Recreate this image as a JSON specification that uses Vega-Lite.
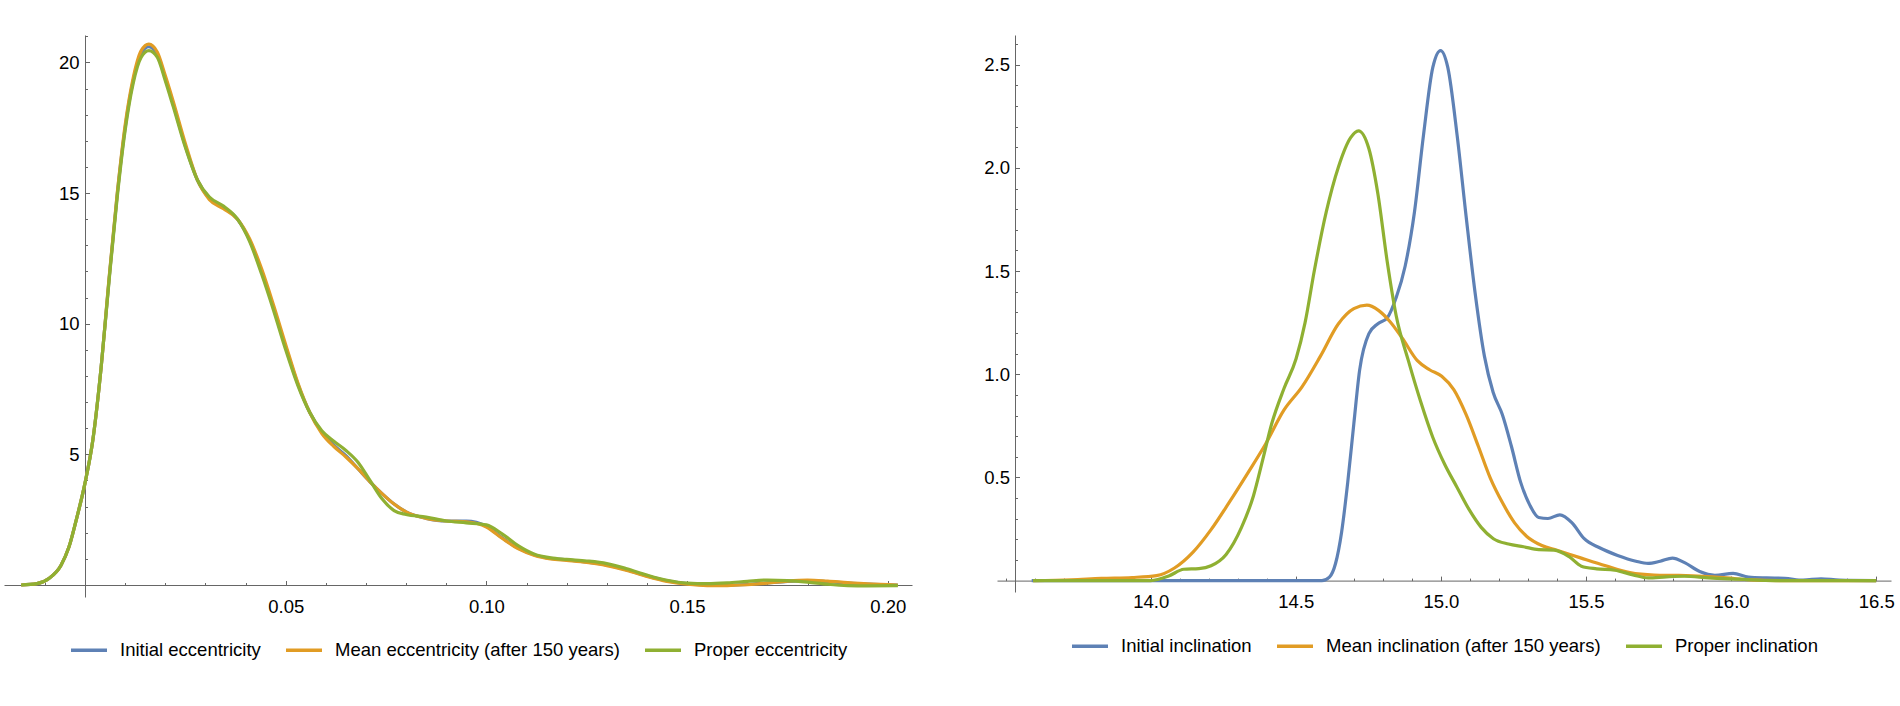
{
  "$schema": "https://vega.github.io/schema/vega-lite/v6.json",
  "background": "white",
  "padding": {"left": 4, "top": 35, "right": 0, "bottom": 0},
  "spacing": 71,
  "config": {
    "view": {"stroke": null},
    "font": "Liberation Sans",
    "axis": {
      "grid": false,
      "title": null,
      "domainColor": "#666666",
      "tickColor": "#666666",
      "labelColor": "#000000",
      "labelFont": "Liberation Sans",
      "labelFontSize": 18.5
    },
    "legend": {
      "orient": "bottom",
      "direction": "horizontal",
      "title": null,
      "symbolType": "stroke",
      "symbolSize": 1296,
      "symbolStrokeWidth": 3.5,
      "labelFont": "Liberation Sans",
      "labelFontSize": 18.5,
      "labelColor": "#000000",
      "labelLimit": 400,
      "labelOffset": 11,
      "columnPadding": 18,
      "offset": 14,
      "layout": {"bottom": {"anchor": "middle"}}
    }
  },
  "resolve": {"scale": {"color": "independent"}},
  "hconcat": [
    {
      "width": 908,
      "height": 562,
      "data": {
        "values": [
          {"series": "Initial eccentricity", "x": -0.0159, "y": 0.0},
          {"series": "Initial eccentricity", "x": -0.012, "y": 0.05},
          {"series": "Initial eccentricity", "x": -0.009, "y": 0.25},
          {"series": "Initial eccentricity", "x": -0.006, "y": 0.75},
          {"series": "Initial eccentricity", "x": -0.004, "y": 1.45},
          {"series": "Initial eccentricity", "x": -0.002, "y": 2.6},
          {"series": "Initial eccentricity", "x": 0.0, "y": 3.9},
          {"series": "Initial eccentricity", "x": 0.002, "y": 5.6},
          {"series": "Initial eccentricity", "x": 0.004, "y": 8.3},
          {"series": "Initial eccentricity", "x": 0.006, "y": 11.7},
          {"series": "Initial eccentricity", "x": 0.008, "y": 14.9},
          {"series": "Initial eccentricity", "x": 0.010, "y": 17.5},
          {"series": "Initial eccentricity", "x": 0.012, "y": 19.3},
          {"series": "Initial eccentricity", "x": 0.014, "y": 20.35},
          {"series": "Initial eccentricity", "x": 0.0159, "y": 20.6},
          {"series": "Initial eccentricity", "x": 0.018, "y": 20.3},
          {"series": "Initial eccentricity", "x": 0.020, "y": 19.4},
          {"series": "Initial eccentricity", "x": 0.022, "y": 18.4},
          {"series": "Initial eccentricity", "x": 0.025, "y": 16.8},
          {"series": "Initial eccentricity", "x": 0.028, "y": 15.5},
          {"series": "Initial eccentricity", "x": 0.031, "y": 14.8},
          {"series": "Initial eccentricity", "x": 0.0345, "y": 14.45},
          {"series": "Initial eccentricity", "x": 0.038, "y": 14.0},
          {"series": "Initial eccentricity", "x": 0.041, "y": 13.2},
          {"series": "Initial eccentricity", "x": 0.044, "y": 12.0},
          {"series": "Initial eccentricity", "x": 0.047, "y": 10.6},
          {"series": "Initial eccentricity", "x": 0.050, "y": 9.1},
          {"series": "Initial eccentricity", "x": 0.053, "y": 7.7},
          {"series": "Initial eccentricity", "x": 0.056, "y": 6.6},
          {"series": "Initial eccentricity", "x": 0.059, "y": 5.85},
          {"series": "Initial eccentricity", "x": 0.062, "y": 5.35},
          {"series": "Initial eccentricity", "x": 0.065, "y": 4.95},
          {"series": "Initial eccentricity", "x": 0.068, "y": 4.45},
          {"series": "Initial eccentricity", "x": 0.071, "y": 3.95},
          {"series": "Initial eccentricity", "x": 0.074, "y": 3.5},
          {"series": "Initial eccentricity", "x": 0.077, "y": 3.1},
          {"series": "Initial eccentricity", "x": 0.080, "y": 2.8},
          {"series": "Initial eccentricity", "x": 0.085, "y": 2.55},
          {"series": "Initial eccentricity", "x": 0.090, "y": 2.45},
          {"series": "Initial eccentricity", "x": 0.095, "y": 2.45},
          {"series": "Initial eccentricity", "x": 0.100, "y": 2.25},
          {"series": "Initial eccentricity", "x": 0.104, "y": 1.8},
          {"series": "Initial eccentricity", "x": 0.108, "y": 1.4},
          {"series": "Initial eccentricity", "x": 0.112, "y": 1.15},
          {"series": "Initial eccentricity", "x": 0.116, "y": 1.02},
          {"series": "Initial eccentricity", "x": 0.120, "y": 0.96},
          {"series": "Initial eccentricity", "x": 0.125, "y": 0.88},
          {"series": "Initial eccentricity", "x": 0.130, "y": 0.77},
          {"series": "Initial eccentricity", "x": 0.135, "y": 0.58},
          {"series": "Initial eccentricity", "x": 0.140, "y": 0.35},
          {"series": "Initial eccentricity", "x": 0.145, "y": 0.16},
          {"series": "Initial eccentricity", "x": 0.150, "y": 0.05},
          {"series": "Initial eccentricity", "x": 0.155, "y": 0.0},
          {"series": "Initial eccentricity", "x": 0.160, "y": -0.01},
          {"series": "Initial eccentricity", "x": 0.165, "y": 0.02},
          {"series": "Initial eccentricity", "x": 0.170, "y": 0.08},
          {"series": "Initial eccentricity", "x": 0.175, "y": 0.14},
          {"series": "Initial eccentricity", "x": 0.180, "y": 0.17},
          {"series": "Initial eccentricity", "x": 0.185, "y": 0.13},
          {"series": "Initial eccentricity", "x": 0.190, "y": 0.07},
          {"series": "Initial eccentricity", "x": 0.195, "y": 0.03},
          {"series": "Initial eccentricity", "x": 0.2025, "y": 0.0},

          {"series": "Mean eccentricity (after 150 years)", "x": -0.0159, "y": 0.0},
          {"series": "Mean eccentricity (after 150 years)", "x": -0.012, "y": 0.05},
          {"series": "Mean eccentricity (after 150 years)", "x": -0.009, "y": 0.25},
          {"series": "Mean eccentricity (after 150 years)", "x": -0.006, "y": 0.75},
          {"series": "Mean eccentricity (after 150 years)", "x": -0.004, "y": 1.45},
          {"series": "Mean eccentricity (after 150 years)", "x": -0.002, "y": 2.6},
          {"series": "Mean eccentricity (after 150 years)", "x": 0.0, "y": 3.9},
          {"series": "Mean eccentricity (after 150 years)", "x": 0.002, "y": 5.6},
          {"series": "Mean eccentricity (after 150 years)", "x": 0.004, "y": 8.3},
          {"series": "Mean eccentricity (after 150 years)", "x": 0.006, "y": 11.75},
          {"series": "Mean eccentricity (after 150 years)", "x": 0.008, "y": 14.95},
          {"series": "Mean eccentricity (after 150 years)", "x": 0.010, "y": 17.6},
          {"series": "Mean eccentricity (after 150 years)", "x": 0.012, "y": 19.4},
          {"series": "Mean eccentricity (after 150 years)", "x": 0.014, "y": 20.45},
          {"series": "Mean eccentricity (after 150 years)", "x": 0.0159, "y": 20.7},
          {"series": "Mean eccentricity (after 150 years)", "x": 0.018, "y": 20.4},
          {"series": "Mean eccentricity (after 150 years)", "x": 0.020, "y": 19.5},
          {"series": "Mean eccentricity (after 150 years)", "x": 0.022, "y": 18.5},
          {"series": "Mean eccentricity (after 150 years)", "x": 0.025, "y": 16.9},
          {"series": "Mean eccentricity (after 150 years)", "x": 0.028, "y": 15.5},
          {"series": "Mean eccentricity (after 150 years)", "x": 0.031, "y": 14.75},
          {"series": "Mean eccentricity (after 150 years)", "x": 0.0345, "y": 14.4},
          {"series": "Mean eccentricity (after 150 years)", "x": 0.038, "y": 14.0},
          {"series": "Mean eccentricity (after 150 years)", "x": 0.041, "y": 13.25},
          {"series": "Mean eccentricity (after 150 years)", "x": 0.044, "y": 12.1},
          {"series": "Mean eccentricity (after 150 years)", "x": 0.047, "y": 10.7},
          {"series": "Mean eccentricity (after 150 years)", "x": 0.050, "y": 9.2},
          {"series": "Mean eccentricity (after 150 years)", "x": 0.053, "y": 7.75},
          {"series": "Mean eccentricity (after 150 years)", "x": 0.056, "y": 6.6},
          {"series": "Mean eccentricity (after 150 years)", "x": 0.059, "y": 5.8},
          {"series": "Mean eccentricity (after 150 years)", "x": 0.062, "y": 5.3},
          {"series": "Mean eccentricity (after 150 years)", "x": 0.065, "y": 4.9},
          {"series": "Mean eccentricity (after 150 years)", "x": 0.068, "y": 4.45},
          {"series": "Mean eccentricity (after 150 years)", "x": 0.071, "y": 3.95},
          {"series": "Mean eccentricity (after 150 years)", "x": 0.074, "y": 3.5},
          {"series": "Mean eccentricity (after 150 years)", "x": 0.077, "y": 3.1},
          {"series": "Mean eccentricity (after 150 years)", "x": 0.080, "y": 2.8},
          {"series": "Mean eccentricity (after 150 years)", "x": 0.085, "y": 2.55},
          {"series": "Mean eccentricity (after 150 years)", "x": 0.090, "y": 2.45},
          {"series": "Mean eccentricity (after 150 years)", "x": 0.095, "y": 2.42},
          {"series": "Mean eccentricity (after 150 years)", "x": 0.100, "y": 2.22},
          {"series": "Mean eccentricity (after 150 years)", "x": 0.104, "y": 1.78},
          {"series": "Mean eccentricity (after 150 years)", "x": 0.108, "y": 1.38},
          {"series": "Mean eccentricity (after 150 years)", "x": 0.112, "y": 1.13},
          {"series": "Mean eccentricity (after 150 years)", "x": 0.116, "y": 1.0},
          {"series": "Mean eccentricity (after 150 years)", "x": 0.120, "y": 0.94},
          {"series": "Mean eccentricity (after 150 years)", "x": 0.125, "y": 0.86},
          {"series": "Mean eccentricity (after 150 years)", "x": 0.130, "y": 0.74},
          {"series": "Mean eccentricity (after 150 years)", "x": 0.135, "y": 0.56},
          {"series": "Mean eccentricity (after 150 years)", "x": 0.140, "y": 0.33},
          {"series": "Mean eccentricity (after 150 years)", "x": 0.145, "y": 0.14},
          {"series": "Mean eccentricity (after 150 years)", "x": 0.150, "y": 0.03},
          {"series": "Mean eccentricity (after 150 years)", "x": 0.155, "y": -0.02},
          {"series": "Mean eccentricity (after 150 years)", "x": 0.160, "y": -0.02},
          {"series": "Mean eccentricity (after 150 years)", "x": 0.165, "y": 0.01},
          {"series": "Mean eccentricity (after 150 years)", "x": 0.170, "y": 0.07},
          {"series": "Mean eccentricity (after 150 years)", "x": 0.175, "y": 0.15},
          {"series": "Mean eccentricity (after 150 years)", "x": 0.180, "y": 0.19},
          {"series": "Mean eccentricity (after 150 years)", "x": 0.185, "y": 0.15},
          {"series": "Mean eccentricity (after 150 years)", "x": 0.190, "y": 0.09},
          {"series": "Mean eccentricity (after 150 years)", "x": 0.195, "y": 0.04},
          {"series": "Mean eccentricity (after 150 years)", "x": 0.2025, "y": 0.0},

          {"series": "Proper eccentricity", "x": -0.0159, "y": 0.0},
          {"series": "Proper eccentricity", "x": -0.012, "y": 0.05},
          {"series": "Proper eccentricity", "x": -0.009, "y": 0.25},
          {"series": "Proper eccentricity", "x": -0.006, "y": 0.75},
          {"series": "Proper eccentricity", "x": -0.004, "y": 1.45},
          {"series": "Proper eccentricity", "x": -0.002, "y": 2.6},
          {"series": "Proper eccentricity", "x": 0.0, "y": 3.9},
          {"series": "Proper eccentricity", "x": 0.002, "y": 5.6},
          {"series": "Proper eccentricity", "x": 0.004, "y": 8.3},
          {"series": "Proper eccentricity", "x": 0.006, "y": 11.65},
          {"series": "Proper eccentricity", "x": 0.008, "y": 14.8},
          {"series": "Proper eccentricity", "x": 0.010, "y": 17.4},
          {"series": "Proper eccentricity", "x": 0.012, "y": 19.2},
          {"series": "Proper eccentricity", "x": 0.014, "y": 20.2},
          {"series": "Proper eccentricity", "x": 0.0159, "y": 20.45},
          {"series": "Proper eccentricity", "x": 0.018, "y": 20.2},
          {"series": "Proper eccentricity", "x": 0.020, "y": 19.3},
          {"series": "Proper eccentricity", "x": 0.022, "y": 18.3},
          {"series": "Proper eccentricity", "x": 0.025, "y": 16.75},
          {"series": "Proper eccentricity", "x": 0.028, "y": 15.5},
          {"series": "Proper eccentricity", "x": 0.031, "y": 14.85},
          {"series": "Proper eccentricity", "x": 0.0345, "y": 14.5},
          {"series": "Proper eccentricity", "x": 0.038, "y": 14.0},
          {"series": "Proper eccentricity", "x": 0.041, "y": 13.15},
          {"series": "Proper eccentricity", "x": 0.044, "y": 11.9},
          {"series": "Proper eccentricity", "x": 0.047, "y": 10.5},
          {"series": "Proper eccentricity", "x": 0.050, "y": 9.0},
          {"series": "Proper eccentricity", "x": 0.053, "y": 7.65},
          {"series": "Proper eccentricity", "x": 0.056, "y": 6.6},
          {"series": "Proper eccentricity", "x": 0.059, "y": 5.9},
          {"series": "Proper eccentricity", "x": 0.062, "y": 5.5},
          {"series": "Proper eccentricity", "x": 0.065, "y": 5.15},
          {"series": "Proper eccentricity", "x": 0.068, "y": 4.7},
          {"series": "Proper eccentricity", "x": 0.071, "y": 4.0},
          {"series": "Proper eccentricity", "x": 0.074, "y": 3.3},
          {"series": "Proper eccentricity", "x": 0.077, "y": 2.85},
          {"series": "Proper eccentricity", "x": 0.080, "y": 2.7},
          {"series": "Proper eccentricity", "x": 0.085, "y": 2.6},
          {"series": "Proper eccentricity", "x": 0.090, "y": 2.45},
          {"series": "Proper eccentricity", "x": 0.095, "y": 2.38},
          {"series": "Proper eccentricity", "x": 0.100, "y": 2.3},
          {"series": "Proper eccentricity", "x": 0.104, "y": 1.95},
          {"series": "Proper eccentricity", "x": 0.108, "y": 1.5},
          {"series": "Proper eccentricity", "x": 0.112, "y": 1.18},
          {"series": "Proper eccentricity", "x": 0.116, "y": 1.04},
          {"series": "Proper eccentricity", "x": 0.120, "y": 0.98},
          {"series": "Proper eccentricity", "x": 0.125, "y": 0.92},
          {"series": "Proper eccentricity", "x": 0.130, "y": 0.82},
          {"series": "Proper eccentricity", "x": 0.135, "y": 0.62},
          {"series": "Proper eccentricity", "x": 0.140, "y": 0.38},
          {"series": "Proper eccentricity", "x": 0.145, "y": 0.18},
          {"series": "Proper eccentricity", "x": 0.150, "y": 0.07},
          {"series": "Proper eccentricity", "x": 0.155, "y": 0.05},
          {"series": "Proper eccentricity", "x": 0.160, "y": 0.08},
          {"series": "Proper eccentricity", "x": 0.165, "y": 0.14},
          {"series": "Proper eccentricity", "x": 0.170, "y": 0.19},
          {"series": "Proper eccentricity", "x": 0.175, "y": 0.17},
          {"series": "Proper eccentricity", "x": 0.180, "y": 0.11},
          {"series": "Proper eccentricity", "x": 0.185, "y": 0.03},
          {"series": "Proper eccentricity", "x": 0.190, "y": -0.02},
          {"series": "Proper eccentricity", "x": 0.195, "y": -0.03},
          {"series": "Proper eccentricity", "x": 0.2025, "y": -0.02}
        ]
      },
      "layer": [
        {
          "mark": {"type": "line", "strokeWidth": 3.2, "interpolate": "monotone"},
          "encoding": {
            "x": {
              "field": "x", "type": "quantitative",
              "scale": {"domain": [-0.02018, 0.20603], "nice": false, "zero": false},
              "axis": {"orient": "bottom", "values": [0.05, 0.1, 0.15, 0.2], "format": ".2f", "offset": -12, "tickSize": -4.5, "labelPadding": 16.5}
            },
            "y": {
              "field": "y", "type": "quantitative",
              "scale": {"domain": [-0.459, 21.049], "nice": false, "zero": false},
              "axis": {"orient": "left", "values": [5, 10, 15, 20], "format": "d", "offset": -81, "tickSize": -4.5, "labelPadding": 10.5}
            },
            "color": {
              "field": "series", "type": "nominal",
              "scale": {
                "domain": ["Initial eccentricity", "Mean eccentricity (after 150 years)", "Proper eccentricity"],
                "range": ["#5E81B5", "#E19C24", "#8FB032"]
              }
            }
          }
        },
        {
          "mark": {"type": "line", "opacity": 0},
          "encoding": {
            "x": {
              "field": "x", "type": "quantitative",
              "scale": {"domain": [-0.02018, 0.20603], "nice": false, "zero": false},
              "axis": {"orient": "bottom", "values": [-0.01, 0.01, 0.02, 0.03, 0.04, 0.06, 0.07, 0.08, 0.09, 0.11, 0.12, 0.13, 0.14, 0.16, 0.17, 0.18, 0.19], "labels": false, "domain": false, "offset": -12, "tickSize": -2.5}
            },
            "y": {
              "field": "y", "type": "quantitative",
              "scale": {"domain": [-0.459, 21.049], "nice": false, "zero": false},
              "axis": {"orient": "left", "values": [1, 2, 3, 4, 6, 7, 8, 9, 11, 12, 13, 14, 16, 17, 18, 19, 21], "labels": false, "domain": false, "offset": -81, "tickSize": -2.5}
            },
            "detail": {"field": "series", "type": "nominal"}
          }
        }
      ],
      "resolve": {"axis": {"x": "independent", "y": "independent"}}
    },
    {
      "width": 894,
      "height": 557,
      "data": {
        "values": [
          {"series": "Initial inclination", "x": 13.59, "y": 0},
          {"series": "Initial inclination", "x": 14.5, "y": 0},
          {"series": "Initial inclination", "x": 14.59, "y": 0},
          {"series": "Initial inclination", "x": 14.616, "y": 0.017},
          {"series": "Initial inclination", "x": 14.637, "y": 0.083},
          {"series": "Initial inclination", "x": 14.658, "y": 0.236},
          {"series": "Initial inclination", "x": 14.679, "y": 0.476},
          {"series": "Initial inclination", "x": 14.7, "y": 0.76},
          {"series": "Initial inclination", "x": 14.72, "y": 1.02},
          {"series": "Initial inclination", "x": 14.752, "y": 1.197},
          {"series": "Initial inclination", "x": 14.783, "y": 1.245},
          {"series": "Initial inclination", "x": 14.815, "y": 1.273},
          {"series": "Initial inclination", "x": 14.846, "y": 1.372},
          {"series": "Initial inclination", "x": 14.877, "y": 1.525},
          {"series": "Initial inclination", "x": 14.909, "y": 1.787},
          {"series": "Initial inclination", "x": 14.94, "y": 2.158},
          {"series": "Initial inclination", "x": 14.972, "y": 2.486},
          {"series": "Initial inclination", "x": 14.999, "y": 2.569},
          {"series": "Initial inclination", "x": 15.024, "y": 2.486},
          {"series": "Initial inclination", "x": 15.056, "y": 2.158},
          {"series": "Initial inclination", "x": 15.087, "y": 1.765},
          {"series": "Initial inclination", "x": 15.118, "y": 1.394},
          {"series": "Initial inclination", "x": 15.15, "y": 1.088},
          {"series": "Initial inclination", "x": 15.18, "y": 0.913},
          {"series": "Initial inclination", "x": 15.212, "y": 0.804},
          {"series": "Initial inclination", "x": 15.243, "y": 0.651},
          {"series": "Initial inclination", "x": 15.275, "y": 0.476},
          {"series": "Initial inclination", "x": 15.306, "y": 0.367},
          {"series": "Initial inclination", "x": 15.337, "y": 0.306},
          {"series": "Initial inclination", "x": 15.369, "y": 0.301},
          {"series": "Initial inclination", "x": 15.41, "y": 0.319},
          {"series": "Initial inclination", "x": 15.452, "y": 0.28},
          {"series": "Initial inclination", "x": 15.494, "y": 0.203},
          {"series": "Initial inclination", "x": 15.547, "y": 0.159},
          {"series": "Initial inclination", "x": 15.609, "y": 0.122},
          {"series": "Initial inclination", "x": 15.672, "y": 0.094},
          {"series": "Initial inclination", "x": 15.714, "y": 0.083},
          {"series": "Initial inclination", "x": 15.756, "y": 0.094},
          {"series": "Initial inclination", "x": 15.798, "y": 0.109},
          {"series": "Initial inclination", "x": 15.84, "y": 0.087},
          {"series": "Initial inclination", "x": 15.892, "y": 0.044},
          {"series": "Initial inclination", "x": 15.944, "y": 0.026},
          {"series": "Initial inclination", "x": 16.007, "y": 0.035},
          {"series": "Initial inclination", "x": 16.06, "y": 0.017},
          {"series": "Initial inclination", "x": 16.122, "y": 0.013},
          {"series": "Initial inclination", "x": 16.185, "y": 0.011},
          {"series": "Initial inclination", "x": 16.248, "y": 0.002},
          {"series": "Initial inclination", "x": 16.31, "y": 0.009},
          {"series": "Initial inclination", "x": 16.373, "y": 0.002},
          {"series": "Initial inclination", "x": 16.5, "y": 0},

          {"series": "Mean inclination (after 150 years)", "x": 13.595, "y": 0},
          {"series": "Mean inclination (after 150 years)", "x": 13.727, "y": 0.004},
          {"series": "Mean inclination (after 150 years)", "x": 13.83, "y": 0.011},
          {"series": "Mean inclination (after 150 years)", "x": 13.936, "y": 0.015},
          {"series": "Mean inclination (after 150 years)", "x": 14.02, "y": 0.024},
          {"series": "Mean inclination (after 150 years)", "x": 14.082, "y": 0.061},
          {"series": "Mean inclination (after 150 years)", "x": 14.146, "y": 0.138},
          {"series": "Mean inclination (after 150 years)", "x": 14.208, "y": 0.247},
          {"series": "Mean inclination (after 150 years)", "x": 14.27, "y": 0.378},
          {"series": "Mean inclination (after 150 years)", "x": 14.334, "y": 0.52},
          {"series": "Mean inclination (after 150 years)", "x": 14.396, "y": 0.662},
          {"series": "Mean inclination (after 150 years)", "x": 14.459, "y": 0.826},
          {"series": "Mean inclination (after 150 years)", "x": 14.522, "y": 0.94},
          {"series": "Mean inclination (after 150 years)", "x": 14.585, "y": 1.088},
          {"series": "Mean inclination (after 150 years)", "x": 14.647, "y": 1.245},
          {"series": "Mean inclination (after 150 years)", "x": 14.7, "y": 1.318},
          {"series": "Mean inclination (after 150 years)", "x": 14.745, "y": 1.335},
          {"series": "Mean inclination (after 150 years)", "x": 14.785, "y": 1.31},
          {"series": "Mean inclination (after 150 years)", "x": 14.825, "y": 1.255},
          {"series": "Mean inclination (after 150 years)", "x": 14.867, "y": 1.175},
          {"series": "Mean inclination (after 150 years)", "x": 14.919, "y": 1.066},
          {"series": "Mean inclination (after 150 years)", "x": 14.961, "y": 1.022},
          {"series": "Mean inclination (after 150 years)", "x": 15.003, "y": 0.99},
          {"series": "Mean inclination (after 150 years)", "x": 15.045, "y": 0.924},
          {"series": "Mean inclination (after 150 years)", "x": 15.087, "y": 0.804},
          {"series": "Mean inclination (after 150 years)", "x": 15.129, "y": 0.651},
          {"series": "Mean inclination (after 150 years)", "x": 15.17, "y": 0.498},
          {"series": "Mean inclination (after 150 years)", "x": 15.212, "y": 0.378},
          {"series": "Mean inclination (after 150 years)", "x": 15.254, "y": 0.28},
          {"series": "Mean inclination (after 150 years)", "x": 15.296, "y": 0.214},
          {"series": "Mean inclination (after 150 years)", "x": 15.348, "y": 0.17},
          {"series": "Mean inclination (after 150 years)", "x": 15.4, "y": 0.147},
          {"series": "Mean inclination (after 150 years)", "x": 15.484, "y": 0.109},
          {"series": "Mean inclination (after 150 years)", "x": 15.568, "y": 0.072},
          {"series": "Mean inclination (after 150 years)", "x": 15.651, "y": 0.039},
          {"series": "Mean inclination (after 150 years)", "x": 15.735, "y": 0.027},
          {"series": "Mean inclination (after 150 years)", "x": 15.819, "y": 0.025},
          {"series": "Mean inclination (after 150 years)", "x": 15.902, "y": 0.021},
          {"series": "Mean inclination (after 150 years)", "x": 15.986, "y": 0.013},
          {"series": "Mean inclination (after 150 years)", "x": 16.07, "y": 0.003},
          {"series": "Mean inclination (after 150 years)", "x": 16.195, "y": 0},
          {"series": "Mean inclination (after 150 years)", "x": 16.5, "y": 0},

          {"series": "Proper inclination", "x": 13.595, "y": 0},
          {"series": "Proper inclination", "x": 14.0, "y": 0},
          {"series": "Proper inclination", "x": 14.062, "y": 0.022},
          {"series": "Proper inclination", "x": 14.114, "y": 0.055},
          {"series": "Proper inclination", "x": 14.166, "y": 0.058},
          {"series": "Proper inclination", "x": 14.208, "y": 0.072},
          {"series": "Proper inclination", "x": 14.26, "y": 0.127},
          {"series": "Proper inclination", "x": 14.313, "y": 0.258},
          {"series": "Proper inclination", "x": 14.354, "y": 0.41},
          {"series": "Proper inclination", "x": 14.386, "y": 0.585},
          {"series": "Proper inclination", "x": 14.417, "y": 0.76},
          {"series": "Proper inclination", "x": 14.459, "y": 0.93},
          {"series": "Proper inclination", "x": 14.501, "y": 1.075},
          {"series": "Proper inclination", "x": 14.532, "y": 1.25},
          {"series": "Proper inclination", "x": 14.564, "y": 1.503},
          {"series": "Proper inclination", "x": 14.605, "y": 1.787},
          {"series": "Proper inclination", "x": 14.647, "y": 2.005},
          {"series": "Proper inclination", "x": 14.689, "y": 2.147},
          {"series": "Proper inclination", "x": 14.716, "y": 2.18},
          {"series": "Proper inclination", "x": 14.752, "y": 2.093},
          {"series": "Proper inclination", "x": 14.783, "y": 1.874},
          {"series": "Proper inclination", "x": 14.815, "y": 1.547},
          {"series": "Proper inclination", "x": 14.846, "y": 1.284},
          {"series": "Proper inclination", "x": 14.888, "y": 1.066},
          {"series": "Proper inclination", "x": 14.93, "y": 0.869},
          {"series": "Proper inclination", "x": 14.972, "y": 0.695},
          {"series": "Proper inclination", "x": 15.013, "y": 0.564},
          {"series": "Proper inclination", "x": 15.055, "y": 0.454},
          {"series": "Proper inclination", "x": 15.097, "y": 0.345},
          {"series": "Proper inclination", "x": 15.139, "y": 0.258},
          {"series": "Proper inclination", "x": 15.181, "y": 0.203},
          {"series": "Proper inclination", "x": 15.233, "y": 0.177},
          {"series": "Proper inclination", "x": 15.285, "y": 0.164},
          {"series": "Proper inclination", "x": 15.337, "y": 0.15},
          {"series": "Proper inclination", "x": 15.39, "y": 0.148},
          {"series": "Proper inclination", "x": 15.442, "y": 0.116},
          {"series": "Proper inclination", "x": 15.484, "y": 0.07},
          {"series": "Proper inclination", "x": 15.537, "y": 0.057},
          {"series": "Proper inclination", "x": 15.599, "y": 0.05},
          {"series": "Proper inclination", "x": 15.662, "y": 0.028},
          {"series": "Proper inclination", "x": 15.714, "y": 0.013},
          {"series": "Proper inclination", "x": 15.777, "y": 0.018},
          {"series": "Proper inclination", "x": 15.84, "y": 0.021},
          {"series": "Proper inclination", "x": 15.923, "y": 0.013},
          {"series": "Proper inclination", "x": 16.028, "y": 0.007},
          {"series": "Proper inclination", "x": 16.153, "y": 0},
          {"series": "Proper inclination", "x": 16.5, "y": 0}
        ]
      },
      "layer": [
        {
          "mark": {"type": "line", "strokeWidth": 3.2, "interpolate": "monotone"},
          "encoding": {
            "x": {
              "field": "x", "type": "quantitative",
              "scale": {"domain": [13.4704, 16.5511], "nice": false, "zero": false},
              "axis": {"orient": "bottom", "values": [14, 14.5, 15, 15.5, 16, 16.5], "format": ".1f", "offset": -11.4, "tickSize": -4.5, "labelPadding": 16.5}
            },
            "y": {
              "field": "y", "type": "quantitative",
              "scale": {"domain": [-0.0553, 2.6445], "nice": false, "zero": false},
              "axis": {"orient": "left", "values": [0.5, 1, 1.5, 2, 2.5], "format": ".1f", "offset": -18, "tickSize": -4.5, "labelPadding": 10}
            },
            "color": {
              "field": "series", "type": "nominal",
              "scale": {
                "domain": ["Initial inclination", "Mean inclination (after 150 years)", "Proper inclination"],
                "range": ["#5E81B5", "#E19C24", "#8FB032"]
              }
            }
          }
        },
        {
          "mark": {"type": "line", "opacity": 0},
          "encoding": {
            "x": {
              "field": "x", "type": "quantitative",
              "scale": {"domain": [13.4704, 16.5511], "nice": false, "zero": false},
              "axis": {"orient": "bottom", "values": [13.5, 13.6, 13.7, 13.8, 13.9, 14.1, 14.2, 14.3, 14.4, 14.6, 14.7, 14.8, 14.9, 15.1, 15.2, 15.3, 15.4, 15.6, 15.7, 15.8, 15.9, 16.1, 16.2, 16.3, 16.4], "labels": false, "domain": false, "offset": -11.4, "tickSize": -2.5}
            },
            "y": {
              "field": "y", "type": "quantitative",
              "scale": {"domain": [-0.0553, 2.6445], "nice": false, "zero": false},
              "axis": {"orient": "left", "values": [0.1, 0.2, 0.3, 0.4, 0.6, 0.7, 0.8, 0.9, 1.1, 1.2, 1.3, 1.4, 1.6, 1.7, 1.8, 1.9, 2.1, 2.2, 2.3, 2.4, 2.6], "labels": false, "domain": false, "offset": -18, "tickSize": -2.5}
            },
            "detail": {"field": "series", "type": "nominal"}
          }
        }
      ],
      "resolve": {"axis": {"x": "independent", "y": "independent"}}
    }
  ]
}
